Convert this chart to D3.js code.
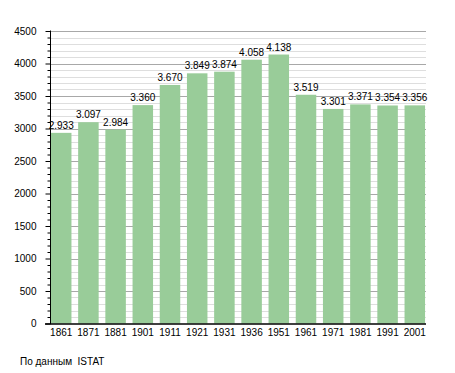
<!DOCTYPE html>
<html><head><meta charset="utf-8">
<script src="https://cdn.jsdelivr.net/npm/d3@7"></script>
<style>body{margin:0;background:#fff}svg{display:block}text{font-family:"Liberation Sans",Arial,sans-serif;fill:#000}</style>
</head><body><svg id="c" width="455" height="373"></svg>
<script>
const years = ["1861","1871","1881","1901","1911","1921","1931","1936","1951","1961","1971","1981","1991","2001"];
const population = [2933,3097,2984,3360,3670,3849,3874,4058,4138,3519,3301,3371,3354,3356];
const valueLabels = ["2.933","3.097","2.984","3.360","3.670","3.849","3.874","4.058","4.138","3.519","3.301","3.371","3.354","3.356"];
const yTicks = [0,500,1000,1500,2000,2500,3000,3500,4000,4500];
const sourceNote = "По данным  ISTAT";

const svg = d3.select("#c");
const x = d3.scaleBand().domain(years).range([50,426]).paddingInner(0.246).paddingOuter(0.035);
const y = d3.scaleLinear().domain([0,4500]).range([323.5,31]);

// grid
const minor = d3.range(100,4501,100).filter(v=>v%500!==0);
svg.append("g").selectAll("line").data(minor).join("line")
  .attr("x1",50).attr("x2",426).attr("y1",d=>Math.round(y(d))+0.5).attr("y2",d=>Math.round(y(d))+0.5)
  .attr("stroke","#dedede").attr("stroke-width",1);
svg.append("g").selectAll("line").data(yTicks.filter(v=>v>0)).join("line")
  .attr("x1",50).attr("x2",426).attr("y1",d=>Math.round(y(d))+0.5).attr("y2",d=>Math.round(y(d))+0.5)
  .attr("stroke","#a8a8a8").attr("stroke-width",1);

// bars
svg.append("g").selectAll("rect").data(population).join("rect")
  .attr("x",(d,i)=>x(years[i])).attr("width",x.bandwidth())
  .attr("y",d=>y(d)).attr("height",d=>y(0)-y(d))
  .attr("fill","#99cc99");

// value labels
svg.append("g").selectAll("text").data(population).join("text")
  .attr("x",(d,i)=>x(years[i])+x.bandwidth()/2).attr("y",d=>y(d)-4)
  .attr("text-anchor","middle").attr("font-size","10px")
  .text((d,i)=>valueLabels[i]);

// y axis
const yAxis = d3.axisLeft(y).tickValues(yTicks).tickSize(5).tickPadding(9).tickFormat(d3.format("d"));
const ga = svg.append("g").attr("transform","translate(50.5,0)").call(yAxis);
ga.select(".domain").attr("stroke","#000").attr("d","M0,30.5V324");
ga.selectAll("text").attr("font-size","10px").attr("font-family","Liberation Sans, Arial, sans-serif");
const gm = svg.append("g").attr("transform","translate(50.5,0)")
  .call(d3.axisLeft(y).tickValues(minor).tickSize(3).tickFormat(""));
gm.select(".domain").remove();

// x axis
const xAxis = d3.axisBottom(x).tickSize(0).tickPadding(5);
const gx = svg.append("g").attr("transform","translate(0,324)").call(xAxis);
gx.select(".domain").attr("stroke","#000").attr("stroke-width",1.5).attr("d","M45,0H426");
gx.selectAll("text").attr("font-size","10px").attr("font-family","Liberation Sans, Arial, sans-serif");

svg.append("text").attr("x",20).attr("y",365).attr("font-size","10px").style("white-space","pre").text(sourceNote);
</script></body></html>
